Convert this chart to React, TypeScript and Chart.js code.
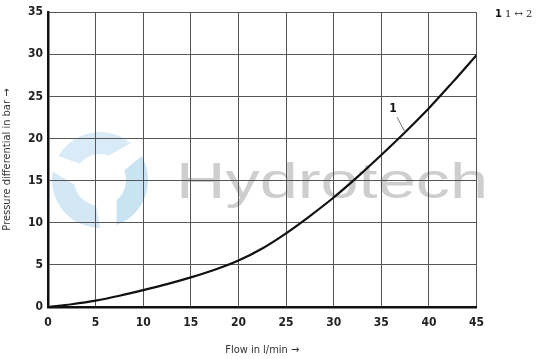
import React, { useEffect, useRef } from "react";
import { Chart, registerables } from "chart.js";

Chart.register(...registerables);

const flowValues = [0, 2.5, 5, 7.5, 10, 12.5, 15, 17.5, 20, 22.5, 25, 27.5, 30, 32.5, 35, 37.5, 40, 42.5, 45];
const pressureValues = [0, 0.33, 0.75, 1.33, 2.0, 2.72, 3.52, 4.42, 5.52, 6.95, 8.75, 10.8, 13.0, 15.45, 18.05, 20.75, 23.6, 26.7, 29.9];
const curveLabel = "1";
const curveLabelAt = { x: 37.5, y: 20.75 };
const legendKey = "1";
const legendText = "1 \u2194 2";
const xTitle = "Flow in l/min \u2192";
const yTitle = "Pressure differential in bar \u2192";
const watermarkText = "Hydrotech";

const FONT = "'DejaVu Sans Condensed', 'Liberation Sans Narrow', 'Liberation Sans', sans-serif";

const decorPlugin = {
  id: "decor",
  beforeDraw(chart: any) {
    const ctx = chart.ctx;
    ctx.save();
    // watermark logo
    const cx = 100, cy = 180, ro = 48, ri = 26;
    const cols = ["rgba(190,222,240,0.6)", "rgba(150,200,230,0.5)", "rgba(175,212,236,0.55)"];
    for (let i = 0; i < 3; i++) {
      const a0 = (-150 + i * 120) * Math.PI / 180;
      const a1 = a0 + 100 * Math.PI / 180;
      ctx.beginPath();
      ctx.arc(cx, cy, ro, a0, a1);
      ctx.arc(cx, cy, ri, a1 - 0.35, a0 + 0.15, true);
      ctx.closePath();
      ctx.fillStyle = cols[i];
      ctx.fill();
    }
    // watermark text
    ctx.font = "50px 'Liberation Sans', Arial, sans-serif";
    ctx.fillStyle = "rgba(185,185,185,0.7)";
    ctx.textBaseline = "alphabetic";
    ctx.textAlign = "left";
    const w = ctx.measureText(watermarkText).width;
    ctx.save();
    ctx.translate(176, 198);
    ctx.scale(312 / w, 1);
    ctx.fillText(watermarkText, 0, 0);
    ctx.restore();
    ctx.restore();
  },
  afterDraw(chart: any) {
    const ctx = chart.ctx;
    const xs = chart.scales.x;
    const ys = chart.scales.y;
    ctx.save();
    // curve label with leader
    const px = xs.getPixelForValue(curveLabelAt.x);
    const py = ys.getPixelForValue(curveLabelAt.y);
    ctx.strokeStyle = "#777";
    ctx.lineWidth = 1;
    ctx.beginPath();
    ctx.moveTo(px, py);
    ctx.lineTo(px - 8, py - 15);
    ctx.stroke();
    ctx.font = "bold 12px " + FONT;
    ctx.fillStyle = "#111";
    ctx.textAlign = "center";
    ctx.textBaseline = "middle";
    ctx.fillText(curveLabel, px - 12, py - 23);
    // legend key top right
    ctx.textAlign = "left";
    ctx.font = "bold 11px " + FONT;
    ctx.fillText(legendKey, 495, 14);
    ctx.font = "10px 'DejaVu Serif', serif";
    ctx.fillStyle = "#222";
    ctx.fillText(legendText, 505, 14);
    ctx.restore();
  },
};

export default function App() {
  const ref = useRef<HTMLCanvasElement | null>(null);
  useEffect(() => {
    document.body.style.margin = "0";
    const data = flowValues.map((x, i) => ({ x, y: pressureValues[i] }));
    const chart = new Chart(ref.current as HTMLCanvasElement, {
      type: "line",
      data: {
        datasets: [
          {
            data,
            borderColor: "#111",
            borderWidth: 2.2,
            pointRadius: 0,
            tension: 0.35,
            fill: false,
          },
        ],
      },
      options: {
        animation: false,
        responsive: false,
        devicePixelRatio: 1,
        layout: { padding: { top: 6, right: 64.5, left: 0, bottom: 0 } },
        plugins: { legend: { display: false }, tooltip: { enabled: false } },
        scales: {
          x: {
            type: "linear",
            min: 0,
            max: 45,
            ticks: { stepSize: 5, color: "#222", font: { family: FONT, size: 12, weight: "bold" }, padding: 9 },
            grid: { color: "#555", lineWidth: 1, drawTicks: false },
            border: { color: "#111", width: 2.5 },
            title: { display: true, text: xTitle, color: "#333", font: { family: FONT, size: 11 }, padding: { top: 0, bottom: 2 } },
            afterFit(scale: any) { scale.height = 52; },
          },
          y: {
            type: "linear",
            min: 0,
            max: 35,
            ticks: { stepSize: 5, color: "#222", font: { family: FONT, size: 12, weight: "bold" }, padding: 5 },
            grid: { color: "#555", lineWidth: 1, drawTicks: false },
            border: { color: "#111", width: 2.5 },
            title: { display: true, text: yTitle, color: "#333", font: { family: FONT, size: 11 }, padding: { top: 1, bottom: 0 } },
            afterFit(scale: any) { scale.width = 48; },
          },
        },
      },
      plugins: [decorPlugin],
    } as any);
    return () => chart.destroy();
  }, []);
  return (
    <div style={{ width: 541, height: 359 }}>
      <canvas ref={ref} width={541} height={359} style={{ display: "block" }} />
    </div>
  );
}
